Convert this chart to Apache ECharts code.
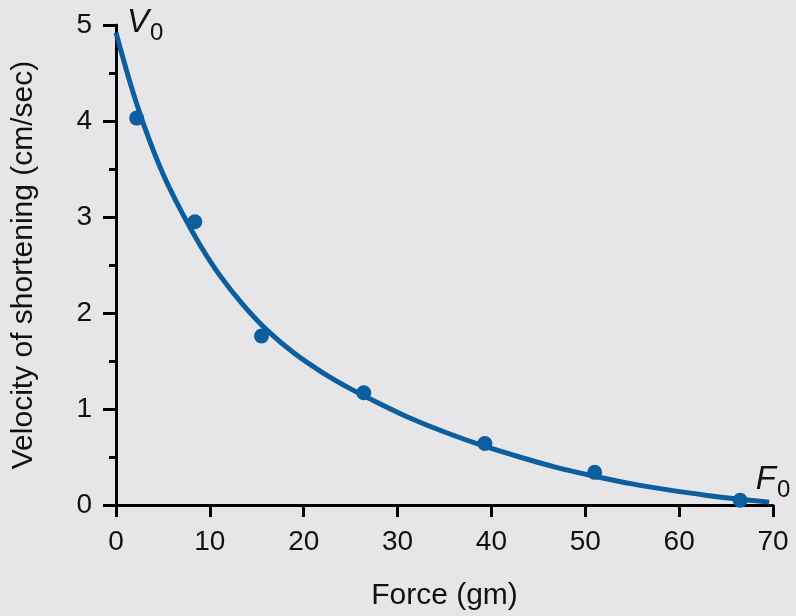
<!DOCTYPE html>
<html>
<head>
<meta charset="utf-8">
<script src="https://cdn.jsdelivr.net/npm/echarts@6/dist/echarts.min.js"></script>
<style>
  html, body { margin: 0; padding: 0; background: #e6e6e8; }
  #chart { width: 796px; height: 616px; }
</style>
</head>
<body>
<div id="chart"></div>
<script>
// Force-velocity relation of muscle: measured points and fitted curve
var forceMeasured = [2.2, 8.4, 15.5, 26.4, 39.3, 51.0, 66.5];
var velocityMeasured = [4.03, 2.95, 1.76, 1.17, 0.64, 0.34, 0.05];

var forceCurve = [0, 1.5, 3, 5, 7, 9, 11, 13.5, 16, 19, 22, 25, 28, 31, 35, 39, 43, 47, 51, 55, 59, 63, 66, 69.6];
var velocityCurve = [4.92, 4.40, 3.95, 3.45, 3.05, 2.70, 2.40, 2.09, 1.83, 1.58, 1.38, 1.21, 1.06, 0.92, 0.76, 0.62, 0.50, 0.39, 0.30, 0.22, 0.155, 0.10, 0.065, 0.03];

var xTicks = [0, 10, 20, 30, 40, 50, 60, 70];
var yTicks = [0, 1, 2, 3, 4, 5];

var FONT = 'Liberation Sans, Arial, Helvetica, sans-serif';
var BLUE = '#0c5e9e';

function zip(a, b) { return a.map(function (v, i) { return [v, b[i]]; }); }

var chart = echarts.init(document.getElementById('chart'), null, { renderer: 'canvas' });

chart.setOption({
  backgroundColor: '#e6e6e8',
  animation: false,
  grid: { left: 116, right: 23, top: 25, bottom: 107, containLabel: false },
  xAxis: {
    type: 'value',
    min: xTicks[0], max: xTicks[xTicks.length - 1], interval: 10,
    name: 'Force (gm)', nameLocation: 'middle', nameGap: 76,
    nameTextStyle: { fontFamily: FONT, fontSize: 30, color: '#111' },
    axisLine: { show: true, onZero: false, lineStyle: { color: '#000', width: 3 } },
    axisTick: { show: true, length: 12, lineStyle: { color: '#000', width: 3 } },
    axisLabel: { margin: 23, fontFamily: FONT, fontSize: 28, color: '#111' },
    splitLine: { show: false }
  },
  yAxis: {
    type: 'value',
    min: yTicks[0], max: yTicks[yTicks.length - 1], interval: 1,
    name: 'Velocity of shortening (cm/sec)', nameLocation: 'middle', nameGap: 77,
    nameTextStyle: { fontFamily: FONT, fontSize: 30, color: '#111' },
    axisLine: { show: true, onZero: false, lineStyle: { color: '#000', width: 3 } },
    axisTick: { show: true, length: 13, lineStyle: { color: '#000', width: 3 } },
    minorTick: { show: true, splitNumber: 2, length: 7, lineStyle: { color: '#000', width: 3 } },
    axisLabel: { margin: 24, fontFamily: FONT, fontSize: 28, color: '#111' },
    splitLine: { show: false }
  },
  series: [
    {
      type: 'line',
      data: zip(forceCurve, velocityCurve),
      smooth: 0.3,
      showSymbol: false,
      lineStyle: { color: BLUE, width: 5 },
      z: 3,
      markPoint: {
        symbol: 'circle', symbolSize: 0,
        data: [
          { coord: [0, 5], label: { position: 'right', offset: [6, -2], formatter: '{i|V}{s|0}' } },
          { coord: [70, 0], label: { position: 'top', offset: [0, -4], formatter: '{i|F}{s|0}' } }
        ],
        label: {
          show: true,
          rich: {
            i: { fontFamily: FONT, fontSize: 33, fontStyle: 'italic', color: '#111' },
            s: { fontFamily: FONT, fontSize: 24, color: '#111', verticalAlign: 'bottom', padding: [0, 0, -6, 1] }
          }
        }
      }
    },
    {
      type: 'scatter',
      data: zip(forceMeasured, velocityMeasured),
      symbol: 'circle',
      symbolSize: 15,
      itemStyle: { color: BLUE, opacity: 1 },
      z: 4
    }
  ]
});
</script>
</body>
</html>
